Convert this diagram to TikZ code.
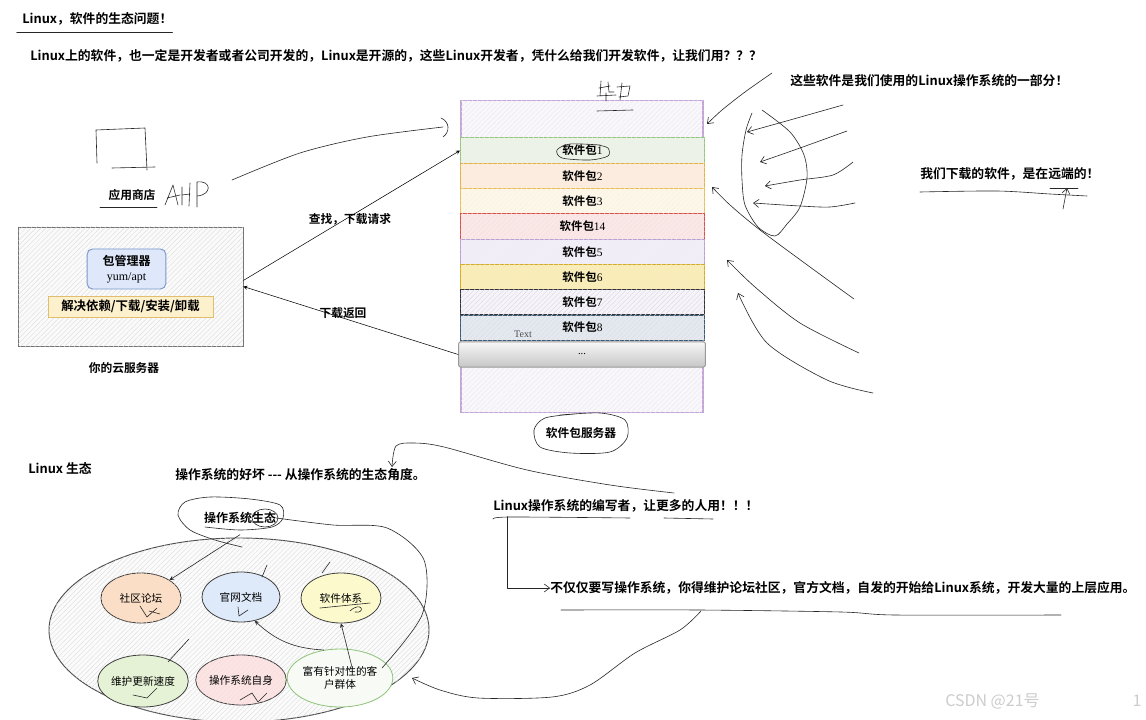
\documentclass[tikz,border=0pt]{standalone}
\usepackage{fontspec}
\setmainfont{Liberation Serif}
\newfontfamily\cjk{Noto Sans CJK SC}[BoldFont={Noto Sans CJK SC Bold}]
\usetikzlibrary{patterns.meta,positioning,calc,shapes.geometric,arrows.meta}

\definecolor{srvline}{RGB}{195,165,215}
\definecolor{srvfill}{RGB}{248,247,250}
\definecolor{rAl}{RGB}{151,196,127}\definecolor{rAf}{RGB}{236,242,232}
\definecolor{rBl}{RGB}{230,176,70}\definecolor{rBf}{RGB}{252,236,224}
\definecolor{rCl}{RGB}{232,190,90}\definecolor{rCf}{RGB}{253,247,234}
\definecolor{rDl}{RGB}{215,80,75}\definecolor{rDf}{RGB}{250,232,232}
\definecolor{rEl}{RGB}{185,160,210}\definecolor{rEf}{RGB}{242,238,247}
\definecolor{rFl}{RGB}{212,172,40}\definecolor{rFf}{RGB}{249,236,180}
\definecolor{rGl}{RGB}{50,50,55}\definecolor{rGf}{RGB}{246,244,250}
\definecolor{rHl}{RGB}{60,90,115}\definecolor{rHf}{RGB}{228,233,240}
\definecolor{pmline}{RGB}{120,150,205}\definecolor{pmfill}{RGB}{222,232,250}
\definecolor{yline}{RGB}{225,190,110}\definecolor{yfill}{RGB}{253,240,205}
\definecolor{ecoA}{RGB}{250,222,200}
\definecolor{ecoB}{RGB}{222,234,250}
\definecolor{ecoC}{RGB}{252,250,205}
\definecolor{ecoD}{RGB}{230,242,214}
\definecolor{ecoE}{RGB}{250,228,228}
\definecolor{ecoF}{RGB}{248,250,246}
\definecolor{usline}{RGB}{140,195,120}

\tikzset{
  hd/.style={font=\cjk\bfseries\fontsize{9.6}{11}\selectfont, inner sep=0pt, anchor=west},
  sm/.style={font=\cjk\bfseries\fontsize{8.8}{10}\selectfont, inner sep=0pt},
  hatch/.style={postaction={pattern={Lines[angle=45,distance=2.6pt,line width=0.25pt]},pattern color=#1}},
  pkgrow/.style 2 args={draw=#1, line width=0.7pt, fill=#2, hatch=#1!20,
    minimum width=183pt, minimum height=18.9pt, inner sep=0pt, font=\fontsize{8.6}{10}\selectfont},
  eco/.style={ellipse, draw=black!75, line width=0.6pt, inner sep=0pt, align=center,
    font=\cjk\fontsize{8}{9.5}\selectfont},
  pen/.style={black!85, line width=0.45pt, line cap=round, line join=round},
  barb/.style={-{Straight Barb[length=4pt,width=6pt]}},
}

\begin{document}
\begin{tikzpicture}[x=0.75pt,y=-0.75pt,>=stealth]
\useasboundingbox[fill=white] (0,0) rectangle (1146,720);

% headings
\node[hd] (title) at (22,19) {Linux，软件的生态问题！};
\draw[pen] ([xshift=-4pt,yshift=-5pt]title.south west) -- ([yshift=-5pt]title.south east);
\node[hd] (why) at (30,56) {Linux上的软件，也一定是开发者或者公司开发的，Linux是开源的，这些Linux开发者，凭什么给我们开发软件，让我们用？？？};

% app store sketch
\draw[pen] (97,163) -- (96,130) -- (145,128) -- (147,170);
\draw[pen] (112,168) -- (155,167);
\node[sm] (store) at (132,195) {应用商店};
\draw[pen] (100,207) -- (157,207);
\draw[pen] (165,205) -- (173,185) -- (178,205) (167,198) -- (180,195);
\draw[pen] (182,187) -- (182,205) (190,183) -- (189,206) (182,195) -- (190,194);
\draw[pen] (197,182) -- (197,207) (197,182) .. controls (212,180) and (212,195) .. (197,196);
\draw[pen] plot[smooth] coordinates {(232,180) (300,153) (367,137) (443,127)};
\draw[pen] (441,118) .. controls (450,122) and (450,132) .. (443,137);

% cloud server
\node[draw=black!55, fill=gray!4, hatch=gray!30, minimum width=168.75pt, minimum height=89.25pt] (cloud) at (130.5,286.5) {};
\node[draw=pmline, fill=pmfill, rounded corners=4pt, line width=0.7pt, minimum width=59pt, minimum height=30pt,
  inner sep=1pt, align=center, font=\fontsize{9}{11}\selectfont] (pm) at (126.5,269) {{\cjk\bfseries 包管理器}\\yum/apt};
\node[draw=yline, fill=yfill, minimum width=124pt, minimum height=15.5pt, inner sep=0pt,
  font=\cjk\bfseries\fontsize{9.3}{11}\selectfont] (deps) at (130.5,306.5) {解决依赖/下载/安装/卸载};
\node[sm] (cloudlbl) at (124,368) {你的云服务器};

% package server
\node[draw=srvline, line width=0.8pt, fill=srvfill, hatch=srvline!30, minimum width=181.5pt, minimum height=234pt] (srv) at (582,256.5) {};
\foreach \lab/\ln/\fl [count=\i from 0] in {1/rAl/rAf, 2/rBl/rBf, 3/rCl/rCf, 14/rDl/rDf, 5/rEl/rEf, 6/rFl/rFf, 7/rGl/rGf, 8/rHl/rHf}
  \node[pkgrow={\ln}{\fl}] (p\lab) at (582.5,{150.5+25.3*\i}) {{\cjk\bfseries 软件包}\lab};
\node[draw=gray!80, rounded corners=1.5pt, top color=gray!6, bottom color=gray!45, line width=0.7pt,
  minimum width=185pt, minimum height=18.9pt, inner sep=0pt, font=\fontsize{8}{10}\selectfont] (pdots) at (582,354.5) {...};
\node[font=\fontsize{7.5}{9}\selectfont, text=black!70, inner sep=0pt] (txt) at (523,334) {Text};
\draw[pen] plot[smooth] coordinates {(600,145) (570,144) (557,150) (562,158) (590,160) (608,156) (608,148) (598,145)};
\node[sm] (srvlbl) at (581,433) {软件包服务器};
\draw[pen] plot[smooth] coordinates {(560,415) (600,413) (625,420) (627,438) (610,452) (570,453) (540,447) (534,430) (545,418) (575,414)};
% scribble on top
\draw[pen] (601,81) -- (600,96) (599,88) -- (610,86) (608,82) -- (609,92) -- (614,92)
  (597,96) -- (616,95) (606,93) -- (606,101);
\draw[pen] (617,87) -- (630,86) -- (628,96) -- (619,97) (622,83) -- (620,100);
\draw[pen] (597,111) -- (633,110);

% requests
\draw[->] ([yshift=4.5pt]cloud.east) -- (p1.west);
\draw[->] (pdots.west) -- (cloud.east);
\node[sm] (reqlbl) at (350,219) {查找，下载请求};
\node[sm] (retlbl) at (343,313) {下载返回};

% right side notes
\node[hd] (part) at (790,81) {这些软件是我们使用的Linux操作系统的一部分！};
\draw[pen,barb] plot[smooth] coordinates {(772,73) (745,92) (722,110) (707,124)};
\draw[pen] plot[smooth] coordinates {(762,110) (790,132) (804,155) (807,178) (800,207) (787,224) (775,236) (758,227) (745,205) (742,180) (742,155) (746,130) (752,113)};
\draw[pen,barb] plot[smooth] coordinates {(843,105) (790,120) (747,132)};
\draw[pen,barb] plot[smooth] coordinates {(847,131) (800,148) (760,162)};
\draw[pen,barb] plot[smooth] coordinates {(853,162) (833,175) (800,180) (765,186)};
\draw[pen,barb] plot[smooth] coordinates {(855,203) (830,207) (800,206) (753,203)};
\draw[pen,barb] plot[smooth] coordinates {(854,299) (810,267) (760,230) (730,205) (712,187)};
\draw[pen,barb] plot[smooth] coordinates {(859,353) (800,323) (755,287) (727,260)};
\draw[pen,barb] plot[smooth] coordinates {(873,393) (827,380) (767,343) (738,293)};
\node[hd] (remote) at (920,174) {我们下载的软件，是在远端的！};
\draw[pen] plot[smooth] coordinates {(920,192) (997,191) (1050,194) (1087,196)};
\draw[pen,barb] (1063,209) -- (1067,188);
\draw[pen] (1050,188) -- (1078,188);

% ecosystem
\node[hd] (ecohd) at (28,468) {Linux 生态};
\node[hd] (good) at (175,475) {操作系统的好坏 -{}-{}- 从操作系统的生态角度。};
\draw[pen,barb] plot[smooth] coordinates {(674,493) (610,485) (527,470) (444,447) (414,443) (396,446) (392,467)};
\node[ellipse, draw=black!70, line width=0.7pt, fill=gray!3, hatch=gray!30, minimum width=285pt, minimum height=138pt] (eco) at (239,630) {};
\node[sm, font=\cjk\bfseries\fontsize{9}{10}\selectfont] (ecolbl) at (240,518) {操作系统生态};
\draw[pen] plot[smooth] coordinates {(242,547) (215,540) (190,530) (178,515) (185,502) (210,497) (250,499) (280,505) (283,518) (272,527) (240,530) (205,527)};
\draw[pen] (265,518) ellipse (13 and 9);
\node[eco, fill=ecoA, hatch=orange!25, minimum width=60pt, minimum height=37.5pt] (forum) at (141,598) {社区论坛};
\node[eco, fill=ecoB, minimum width=58.5pt, minimum height=37.5pt] (docs) at (241,597) {官网文档};
\node[eco, fill=ecoC, minimum width=60pt, minimum height=37.5pt] (apps) at (341,598) {软件体系};
\node[eco, fill=ecoD, minimum width=61.5pt, minimum height=39pt] (upd) at (143,681) {维护更新速度};
\node[eco, fill=ecoE, hatch=red!15, minimum width=60pt, minimum height=37.5pt] (self) at (241,680) {操作系统自身};
\node[eco, draw=usline, fill=ecoF, minimum width=63pt, minimum height=43.5pt] (users) at (340,678) {富有针对性的客\\户群体};
\draw[pen,->] ([yshift=-8pt]ecolbl.south) -- (forum.north east);
\draw[pen,->] (users.120) to[bend left=20] (docs.-60);
\draw[pen,->] ($(users.center)+(12,-11)$) -- (apps.south);
\draw[pen] plot[smooth] coordinates {(ecolbl.east) (333,525) (387,528) (424,560) (422,615) (382,668)};
% ticks
\draw[pen] (140,606) -- (147,617) -- (157,608) (149,611) -- (160,614);
\draw[pen] (238,607) -- (239,616) -- (248,610);
\draw[pen] (320,608) -- (370,603) (350,611) .. controls (362,600) and (366,614) .. (355,612);
\draw[pen] (133,695) -- (147,698) -- (157,688);
\draw[pen] (240,700) -- (252,693) -- (258,702) -- (267,693);
\draw[pen] (267,565) -- (262,577) (330,562) -- (322,573) (189,639) -- (168,662);

% writers
\node[hd] (writer) at (493,506) {Linux操作系统的编写者，让更多的人用！！！};
\draw[pen] plot[smooth] coordinates {(493,519) (510,517) (630,518)};
\draw[pen] (664,518) -- (713,519);
\node[hd] (more) at (550,588) {不仅仅要写操作系统，你得维护论坛社区，官方文档，自发的开始给Linux系统，开发大量的上层应用。};
\draw[pen,barb] ([xshift=11pt,yshift=-3pt]writer.south west) |- (more.west);
\draw[pen] plot[smooth] coordinates {(561,610) (699,610) (841,612) (895,615) (1061,615)};
\draw[pen,barb] plot[smooth] coordinates {(701,611) (680,630) (635,653) (590,685) (552,697) (478,698) (440,690) (412,678)};

% watermark
\node[font=\cjk\fontsize{12}{14}\selectfont, text=gray!40, anchor=west, inner sep=0pt] (wm) at (945,701) {CSDN @21号};
\node[font=\cjk\fontsize{12}{14}\selectfont, text=gray!40, inner sep=0pt] (pg) at (1137,701) {1};
\end{tikzpicture}
\end{document}
